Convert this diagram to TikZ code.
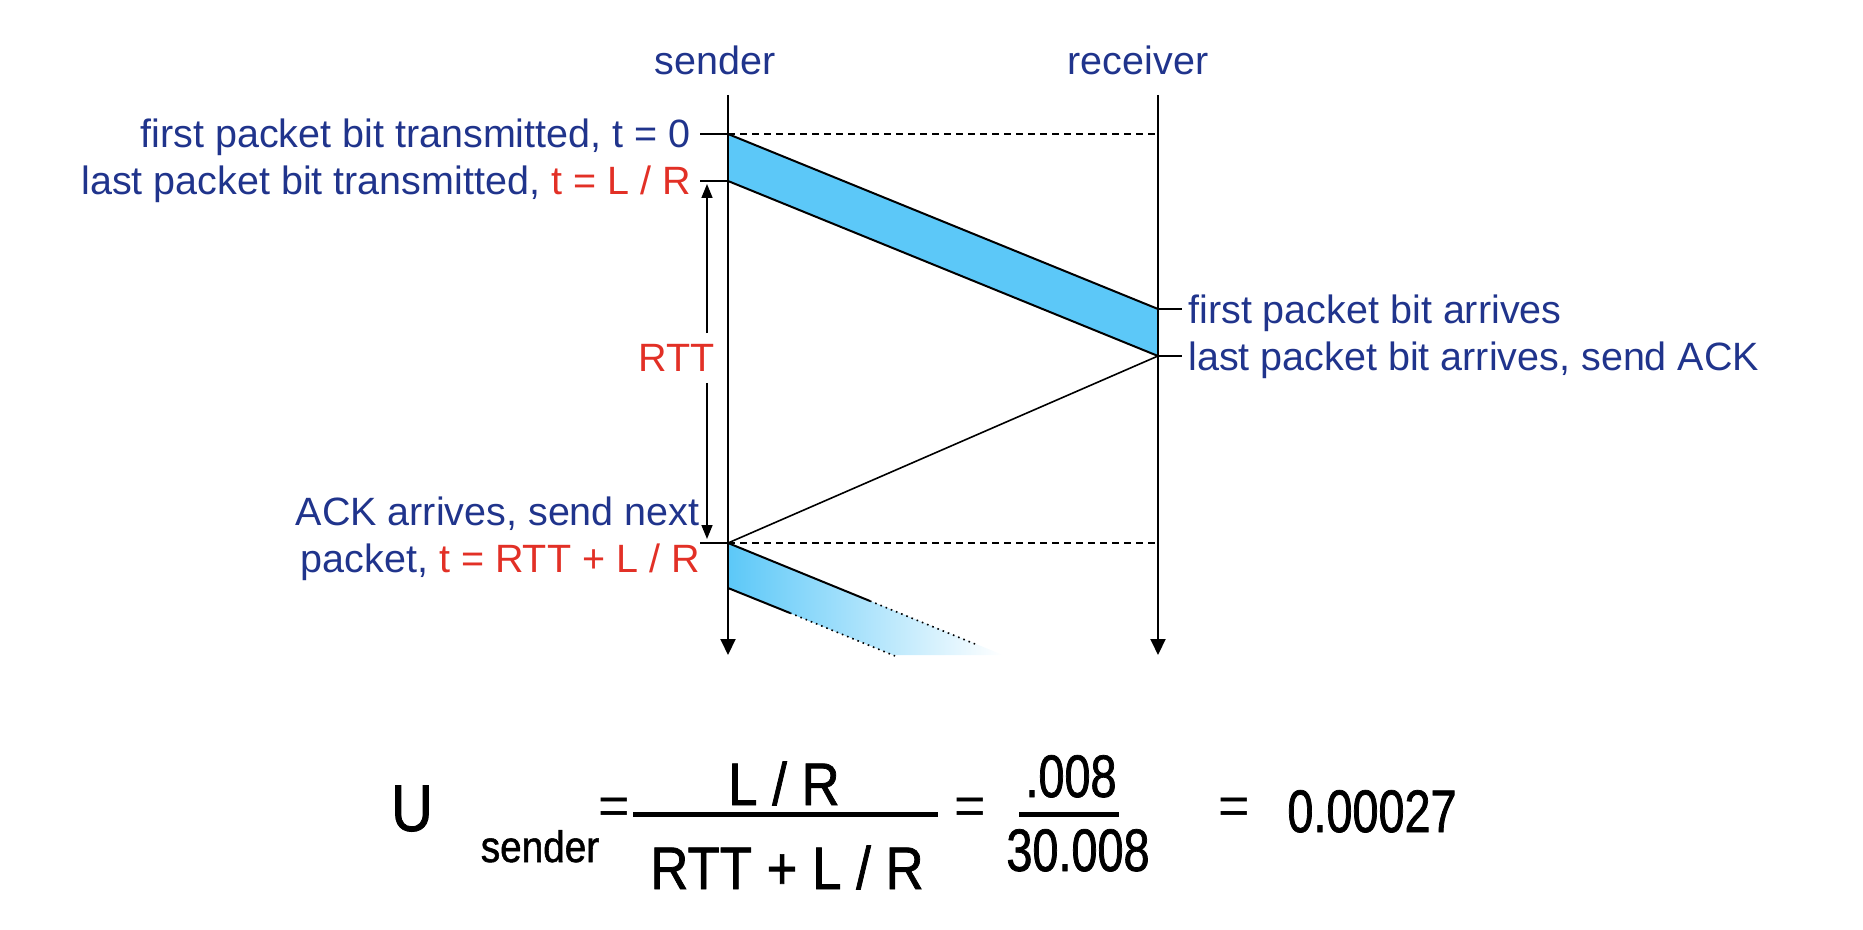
\documentclass[tikz,border=0pt]{standalone}
\usepackage{fontspec}
\setmainfont{Liberation Sans}
\newfontfamily\eqfont[FakeStretch=0.88, FakeBold=1.2]{Liberation Sans}
\newfontfamily\eqnumfont[FakeStretch=0.78, FakeBold=1.2]{Liberation Sans}
\usetikzlibrary{arrows.meta}

\definecolor{navy}{RGB}{32,52,140}
\definecolor{tred}{RGB}{226,48,38}
\definecolor{pktblue}{RGB}{92,200,248}

\tikzset{
  lbl/.style={text=navy, inner sep=0pt, font=\fontsize{19.75}{23.5}\selectfont},
  eq/.style={inner sep=0pt, font=\eqfont\fontsize{30}{32}\selectfont},
  eqnum/.style={inner sep=0pt, font=\eqnumfont\fontsize{30}{32}\selectfont},
  eqsign/.style={inner sep=0pt, font=\fontsize{27}{27}\selectfont},
  timeline/.style={line width=1pt, -{Triangle[length=8pt,width=7.5pt]}},
  edge/.style={line width=1pt},
  tick/.style={line width=0.8pt},
  guide/.style={line width=0.8pt, dash pattern=on 3.5pt off 2.5pt},
  rttarrow/.style={line width=0.8pt, -{Triangle[length=7pt,width=5.5pt]}},
}

\begin{document}
\begin{tikzpicture}[x=0.5pt, y=-0.5pt]
  \useasboundingbox (0,0) rectangle (1863,930);

  % the two ends
  \node[lbl, anchor=base] (sender)   at (715,75)  {sender};
  \node[lbl, anchor=base] (receiver) at (1138,75) {receiver};
  \coordinate (stop) at (728,95);   \coordinate (send) at (728,655);
  \coordinate (rtop) at (1158,95);  \coordinate (rend) at (1158,655);

  % packet corners
  \coordinate (s0) at (728,134);  \coordinate (s1) at (728,181);
  \coordinate (r0) at (1158,309); \coordinate (r1) at (1158,356);
  \coordinate (s2) at (728,543);  \coordinate (s3) at (728,588);

  % first packet
  \fill[pktblue] (s0) -- (r0) -- (r1) -- (s1) -- cycle;
  \draw[edge] (s0) -- (r0);
  \draw[edge] (s1) -- (r1);

  % next packet, fading out
  \shade[left color=pktblue, middle color=pktblue!75, right color=white]
    (s2) -- (1003,655) -- (893,655) -- (s3) -- cycle;
  \coordinate (p2a) at (870,601); \coordinate (p2b) at (975,644);
  \coordinate (p2c) at (790,613); \coordinate (p2d) at (895,656);
  \draw[edge] (s2) -- (p2a);
  \draw[line width=0.8pt, dotted] (p2a) -- (p2b);
  \draw[edge] (s3) -- (p2c);
  \draw[line width=0.8pt, dotted] (p2c) -- (p2d);

  % ACK
  \draw[tick] (r1) -- (s2);

  % dashed guides
  \draw[guide] (s0) -- (rtop |- s0);
  \draw[guide] (s2) -- (rtop |- s2);

  % time lines
  \draw[timeline] (stop) -- (send);
  \draw[timeline] (rtop) -- (rend);

  % ticks
  \draw[tick] (s0) -- ++(-28,0);
  \draw[tick] (s1) -- ++(-28,0);
  \draw[tick] (s2) -- ++(-28,0);
  \draw[tick] (r0) -- ++(24,0);
  \draw[tick] (r1) -- ++(24,0);

  % labels
  \node[lbl, anchor=base east] (fsent) at (691,148) {first packet bit transmitted, t = 0};
  \node[lbl, anchor=base east] (lsent) at (691,195) {last packet bit transmitted, \textcolor{tred}{t = L / R}};
  \node[lbl, anchor=base west] (farr) at (1188,324) {first packet bit arrives};
  \node[lbl, anchor=base west] (larr) at (1188,371) {last packet bit arrives, send ACK};
  \node[lbl, anchor=east, align=right] (ack) at (700,539)
    {ACK arrives, send next\\packet, \textcolor{tred}{t = RTT + L / R}};

  % RTT
  \node[lbl, text=tred, inner ysep=5.5pt] (rtt) at (677,358) {RTT};
  \coordinate (rtta) at (707,184); \coordinate (rttb) at (707,539);
  \draw[rttarrow] (rtt.north -| rtta) -- (rtta);
  \draw[rttarrow] (rtt.south -| rttb) -- (rttb);

  % utilization
  \node[eq, anchor=base, font=\eqfont\fontsize{33}{34}\selectfont] (U) at (412,831) {U};
  \node[eq, anchor=base, font=\eqfont\fontsize{22}{24}\selectfont] (Usub) at (540,862) {sender};
  \node[eqsign] (eq1) at (614,811) {=};
  \coordinate (fa) at (633,814); \coordinate (fb) at (938,814);
  \draw[line width=2.5pt] (fa) -- (fb);
  \node[eq, anchor=base] (num) at (784,805) {L / R};
  \node[eq, anchor=base] (den) at (787,889) {RTT + L / R};
  \node[eqsign] (eq2) at (970,811) {=};
  \coordinate (ga) at (1019,814); \coordinate (gb) at (1119,814);
  \draw[line width=2.5pt] (ga) -- (gb);
  \node[eqnum, anchor=base] (num2) at (1071,797) {.008};
  \node[eqnum, anchor=base] (den2) at (1078,871) {30.008};
  \node[eqsign] (eq3) at (1234,811) {=};
  \node[eqnum, anchor=base] (util) at (1372,832) {0.00027};
\end{tikzpicture}
\end{document}
